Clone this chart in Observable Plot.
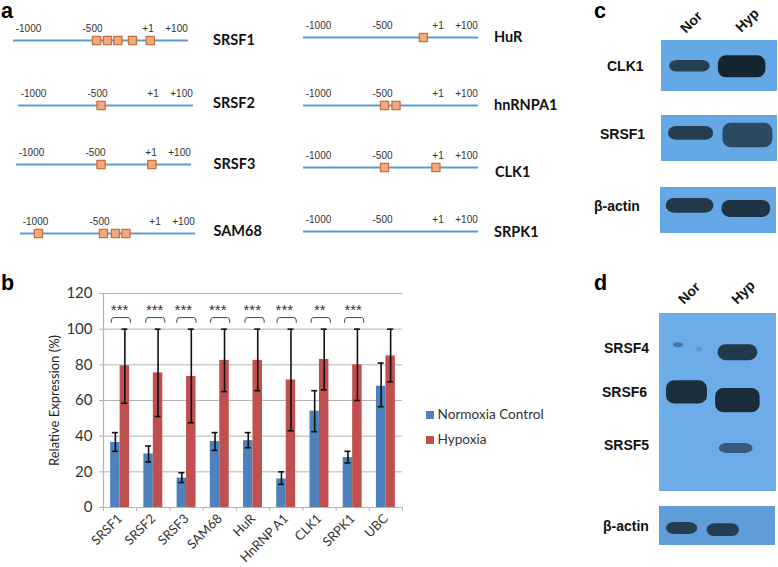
<!DOCTYPE html>
<html><head><meta charset="utf-8">
<script src="https://cdn.jsdelivr.net/npm/d3@7"></script>
<script src="https://cdn.jsdelivr.net/npm/@observablehq/plot@0.6"></script>
<style>
html,body{margin:0;background:#fff}
#fig{position:relative;width:778px;height:567px;overflow:hidden;background:#fff}
#fig svg{position:absolute;background:transparent}
.t{position:absolute;white-space:nowrap;line-height:1}
</style></head><body><div id="fig"></div>
<script>
// ---------- panel b data ----------
const genes = ["SRSF1","SRSF2","SRSF3","SAM68","HuR","HnRNP A1","CLK1","SRPK1","UBC"];
const normoxia = [36.5,30,16.5,37,37.5,16,54,28,68];
const normoxiaLow = [31.5,25.5,14,32,33.5,13,42.5,25,56.5];
const normoxiaHigh = [42,34.5,19.5,42,42,20,65.5,31.5,81];
const hypoxia = [79.5,75.5,73.5,82.5,82.5,71.5,83,80,85];
const hypoxiaLow = [58.5,51,47.5,65,65.5,43,66,60,70.5];
const hypoxiaHigh = [100,100,100,100,100,100,100,100,100];
const stars = ["***","***","***","***","***","***","**","***"];
const starCentre = [.483,1.539,2.404,3.44,4.477,5.443,6.509,7.515];
const bracketCentre = [.523,1.559,2.495,3.511,4.547,5.513,6.539,7.545];
const seriesNames = ["Normoxia Control","Hypoxia"];
const seriesColors = ["#4f81bd","#c0504d"];
const yTicks = [0,20,40,60,80,100,120];

// ---------- panel a data ----------
const promoterTicks = [-1000,-500,1,100];
const promoters = [
  {gene:"SRSF1", sites:[-464,-365,-270,-139,9]},
  {gene:"SRSF2", sites:[-468]},
  {gene:"SRSF3", sites:[-450,4]},
  {gene:"SAM68", sites:[-977,-464,-356,-261]},
  {gene:"HuR", sites:[-131]},
  {gene:"hnRNPA1", sites:[-482,-378]},
  {gene:"CLK1", sites:[-482,-18]},
  {gene:"SRPK1", sites:[]}
];

// ---------- panels c, d data: band extents in % of the membrane, density 0-1 ----------
const blots = [
  {name:"CLK1", bands:[[7,42,39,62,.8],[49,90,30,73,1]]},
  {name:"SRSF1", bands:[[6,45,24,54,.82],[53,96,17,70,.72]]},
  {name:"actinC", bands:[[5,46,24,56,.85],[53,95,28,65,.88]]},
  {name:"panelD", bands:[[12,20.5,16.4,19.2,.4],[31,37,19,21.5,.15],[50,84,17.5,26.5,.85],[6,41,37.8,50.8,.92],[48,86,42.2,55.7,.95],[51,80,73,78.7,.6]]},
  {name:"actinD", bands:[[6,33,41,72,.8],[41,69,44,77,.8]]}
];

// ---------- page layout ----------
const fig = document.getElementById("fig");
function place(el,left,top){el.style.left=left+"px";el.style.top=top+"px";fig.appendChild(el);return el;}
function label(text,x,y,{size=14,weight="bold",font="'Liberation Sans'",rotate=0,color="#111",anchor="left",lh=1}={}){
  const d=document.createElement("div");d.className="t";d.textContent=text;
  d.style.fontFamily=font;d.style.fontSize=size+"px";d.style.fontWeight=weight;d.style.color=color;d.style.lineHeight=lh;
  const tx=anchor==="center"?"-50%":"0";
  d.style.transform=`translate(${tx},-50%) rotate(${rotate}deg)`;
  place(d,x,y);
}
for(const [l,x,y] of [["a",1,12],["b",1,284],["c",594,12],["d",594,284]]) label(l,x,y,{size:21.5,color:"#000"});

// Panel a
const promoterLayout = [[13,39.5,213,40],[17.5,105,213,103],[15.5,164,213.5,164],[20,232.5,213.5,231],
                        [302.5,37,494,37],[302.5,105,494,105],[302.5,167,495,172],[302.5,231,494,232]];
promoters.forEach((p,i)=>{
  const [left,lineY,gx,gy]=promoterLayout[i];
  const svg=Plot.plot({
    width:176,height:28,marginTop:14,marginBottom:0,marginLeft:0,marginRight:0,
    style:{background:"transparent",overflow:"visible"},
    x:{type:"linear",domain:[-1117,-1000,-500,1,100,141],range:[0,15,79,134.5,163,175]},
    y:{domain:[-1,1],axis:null},
    marks:[
      Plot.axisX({anchor:"top",ticks:promoterTicks,tickSize:0,tickPadding:2,label:null,
        tickFormat:d=>d>0?"+"+d:String(d),fontSize:10,fontFamily:"'Liberation Sans'",fill:"#333"}),
      Plot.ruleY([0],{x1:()=>-1117,x2:()=>141,stroke:"#5b9bd5",strokeWidth:2}),
      Plot.dot(p.sites,{x:d=>d,y:()=>0,symbol:"square",r:4.6,fill:"#f4a97f",stroke:"#c8703c",strokeWidth:1.3,strokeLinejoin:"round"})
    ]});
  place(svg,left,lineY-21);
  label(p.gene,gx,gy,{size:14.5,font:"Lato",color:"#111"});
});

// Panel b
const rows=genes.flatMap((g,i)=>[
  {gene:g,i,s:0,v:normoxia[i],lo:normoxiaLow[i],hi:normoxiaHigh[i]},
  {gene:g,i,s:1,v:hypoxia[i],lo:hypoxiaLow[i],hi:hypoxiaHigh[i]}]);
const barLeft=d=>d.i+.5+(d.s?0:-.285), barRight=d=>d.i+.5+(d.s?.285:0), barMid=d=>d.i+.5+(d.s?.143:-.143);
const grey="#b3b3b3";
const bracketPaths=bracketCentre.flatMap((c,k)=>[[-.29,103.8],[-.285,105.2],[-.26,106.2],[-.22,106.5],[.22,106.5],[.26,106.2],[.285,105.2],[.29,103.8]].map(([dx,y])=>({k,x:c+dx,y})));
const barSvg=Plot.plot({
  width:420,height:297,marginLeft:103,marginRight:18,marginTop:23,marginBottom:60,
  style:{background:"transparent",overflow:"visible"},
  x:{type:"linear",domain:[0,9],axis:null},
  y:{domain:[0,120],axis:null},
  color:{domain:[0,1],type:"ordinal",range:seriesColors},
  marks:[
    Plot.gridY(yTicks.slice(1),{stroke:grey,strokeOpacity:1,strokeWidth:1}),
    Plot.rectY(rows,{x1:barLeft,x2:barRight,y1:0,y2:"v",fill:"s",inset:0}),
    Plot.ruleX(rows,{x:barMid,y1:"lo",y2:"hi",stroke:"#111",strokeWidth:1.6}),
    Plot.ruleY(rows,{y:"lo",x1:d=>barMid(d)-.09,x2:d=>barMid(d)+.09,stroke:"#111",strokeWidth:1.6}),
    Plot.ruleY(rows,{y:"hi",x1:d=>barMid(d)-.09,x2:d=>barMid(d)+.09,stroke:"#111",strokeWidth:1.6}),
    Plot.ruleX([0],{stroke:grey,strokeWidth:1.2}),
    Plot.ruleY([0],{stroke:grey,strokeWidth:1.2}),
    Plot.axisY({ticks:yTicks,tickSize:4,tickPadding:7,stroke:grey,fill:"#333",fontSize:15,fontFamily:"Lato",label:null}),
    Plot.axisY({ticks:[],tickSize:0,fill:"#222",fontSize:13,fontFamily:"Lato",
      label:"Relative Expression (%)",labelAnchor:"center",labelArrow:"none",labelOffset:54}),
    Plot.axisX({ticks:d3.range(10),tickSize:4,stroke:grey,tickFormat:()=>"",label:null}),
    Plot.axisX({ticks:genes.map((g,i)=>i+.5),tickSize:0,tickPadding:9,tickRotate:-45,label:null,
      tickFormat:d=>genes[d-.5],fontSize:13,fontFamily:"Lato",fill:"#333"}),
    Plot.line(bracketPaths,{x:"x",y:"y",z:"k",stroke:"#444",strokeWidth:1,curve:"linear"}),
    Plot.text(stars,{x:(d,i)=>starCentre[i],y:()=>110.8,text:d=>d,fontSize:15,fontFamily:"'Liberation Sans'",fill:"#333"})
  ]});
place(barSvg,0,270);
seriesNames.forEach((n,i)=>{
  const y=[415,440][i];
  const sw=document.createElement("div");sw.style.cssText=`position:absolute;width:8px;height:8px;background:${seriesColors[i]}`;
  place(sw,426,y-4);
  label(n,437.5,y,{size:13.6,weight:"normal",font:"Lato",color:"#333"});
});

// Panels c, d
const blotLayout=[[661,40,116,51,"#64a9e6"],[661,115,116,46,"#64a9e6"],[660,187,116,46,"#64a9e6"],[659,313,117,178,"#6cade9"],[659,506,116,39,"#5f9dd8"]];
blots.forEach((b,i)=>{
  const [left,top,w,h,bg]=blotLayout[i];
  const svg=Plot.plot({
    width:w,height:h,margin:0,
    style:{background:bg,overflow:"hidden"},
    x:{domain:[0,100],axis:null},y:{domain:[100,0],axis:null},
    opacity:{domain:[0,1],range:[0,1]},
    marks:[
      Plot.rect(b.bands,{x1:d=>d[0],x2:d=>d[1],y1:d=>d[2],y2:d=>d[3],fillOpacity:d=>d[4],fill:"#16242f",rx:8,ariaLabel:"band"})
    ]
  });
  svg.querySelectorAll('[aria-label="band"]').forEach(g=>g.style.filter="blur(3px)");
  svg.style.background=bg;
  place(svg,left,top);
});
for(const [t,x,y] of [["CLK1",607,66],["SRSF1",600,133.5],["β-actin",594,206],["SRSF4",604,348],["SRSF6",602,392],["SRSF5",604,445],["β-actin",603,526]]) label(t,x,y);
for(const [t,x,y] of [["Nor",691,22],["Hyp",747,20],["Nor",689,293],["Hyp",743,292]]) label(t,x,y,{rotate:-45,anchor:"center",size:14});
</script></body></html>
